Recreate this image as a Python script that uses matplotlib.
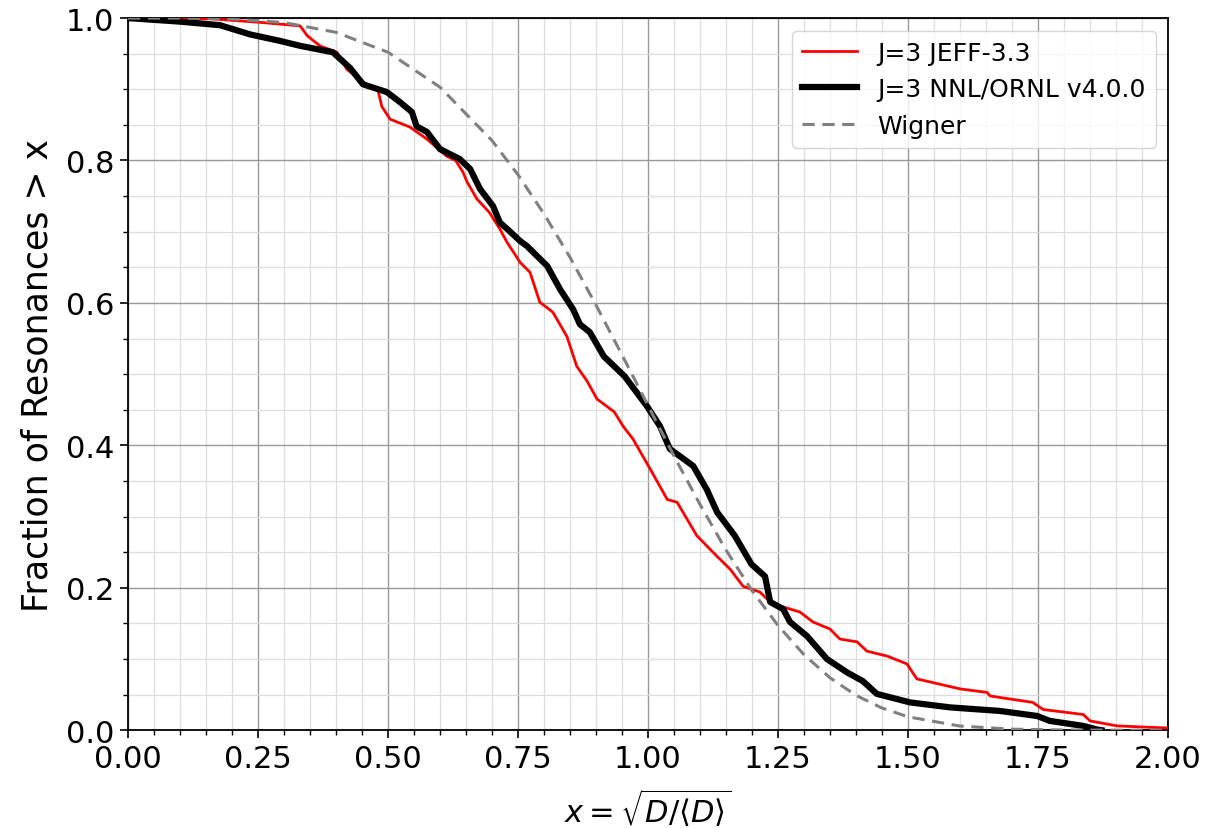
import matplotlib
matplotlib.use("Agg")
import matplotlib.pyplot as plt
from matplotlib.ticker import MultipleLocator

# JEFF-3.3 (red)
jeff_x = [0.0, 0.158, 0.254, 0.331, 0.345, 0.369, 0.402, 0.421, 0.452, 0.481, 0.488, 0.504,
          0.542, 0.575, 0.613, 0.630, 0.644, 0.652, 0.671, 0.695, 0.715, 0.729, 0.754, 0.773,
          0.792, 0.817, 0.844, 0.863, 0.883, 0.902, 0.935, 0.952, 0.971, 1.004, 1.037, 1.056,
          1.094, 1.133, 1.158, 1.183, 1.215, 1.235, 1.260, 1.292, 1.317, 1.350, 1.369, 1.402,
          1.421, 1.460, 1.498, 1.517, 1.600, 1.652, 1.658, 1.740, 1.760, 1.837, 1.850, 1.902, 2.0]
jeff_y = [1.0, 0.999, 0.994, 0.989, 0.975, 0.961, 0.952, 0.928, 0.910, 0.898, 0.876, 0.858,
          0.847, 0.830, 0.806, 0.800, 0.784, 0.770, 0.746, 0.727, 0.704, 0.685, 0.657, 0.643,
          0.601, 0.587, 0.553, 0.511, 0.490, 0.465, 0.447, 0.427, 0.409, 0.367, 0.324, 0.320,
          0.273, 0.244, 0.226, 0.202, 0.194, 0.180, 0.173, 0.166, 0.152, 0.142, 0.128, 0.124,
          0.111, 0.104, 0.093, 0.072, 0.058, 0.053, 0.048, 0.039, 0.029, 0.022, 0.013, 0.006, 0.003]

# NNL/ORNL v4.0.0 (black)
nnl_x = [0.0, 0.10, 0.177, 0.235, 0.292, 0.331, 0.394, 0.427, 0.452, 0.498, 0.523, 0.546,
         0.555, 0.575, 0.600, 0.638, 0.658, 0.677, 0.702, 0.715, 0.729, 0.754, 0.767, 0.792,
         0.806, 0.831, 0.856, 0.869, 0.888, 0.915, 0.955, 0.998, 1.023, 1.042, 1.087, 1.113,
         1.133, 1.167, 1.199, 1.225, 1.235, 1.260, 1.273, 1.306, 1.344, 1.383, 1.413, 1.440,
         1.504, 1.581, 1.677, 1.748, 1.773, 1.837, 1.863, 1.872]
nnl_y = [1.0, 0.995, 0.990, 0.977, 0.968, 0.961, 0.952, 0.930, 0.907, 0.896, 0.882, 0.868,
         0.848, 0.840, 0.816, 0.802, 0.788, 0.760, 0.736, 0.713, 0.704, 0.687, 0.680, 0.662,
         0.652, 0.619, 0.591, 0.570, 0.559, 0.525, 0.497, 0.455, 0.427, 0.395, 0.371, 0.338,
         0.306, 0.273, 0.233, 0.216, 0.180, 0.170, 0.152, 0.132, 0.100, 0.081, 0.069, 0.051,
         0.039, 0.032, 0.027, 0.020, 0.013, 0.006, 0.001, 0.0]

# Wigner reference
wig_x = [0.0, 0.1, 0.2, 0.3, 0.4, 0.5, 0.6, 0.7, 0.75, 0.8, 0.85, 0.9, 0.95, 1.0, 1.05,
         1.1, 1.15, 1.2, 1.25, 1.3, 1.35, 1.4, 1.45, 1.5, 1.6, 1.7, 1.8, 1.9, 2.0]
wig_y = [1.0, 1.0, 0.9987, 0.9937, 0.980, 0.952, 0.903, 0.828, 0.780, 0.725, 0.664, 0.597,
         0.527, 0.456, 0.385, 0.317, 0.253, 0.196, 0.147, 0.106, 0.0736, 0.0489, 0.0311,
         0.0188, 0.0058, 0.0014, 0.0003, 0.00004, 0.0]

fig = plt.figure(figsize=(12.12, 8.29), dpi=100)
ax = fig.add_axes([0.1056, 0.118, 0.8581, 0.859])

ax.plot(jeff_x, jeff_y, color="red", lw=2.0, label="J=3 JEFF-3.3", zorder=3)
ax.plot(nnl_x, nnl_y, color="black", lw=4.5, label="J=3 NNL/ORNL v4.0.0", zorder=4)
ax.plot(wig_x, wig_y, color="gray", lw=2.2, ls=(0, (4, 2.5)), label="Wigner", zorder=5)

ax.set_xlim(0, 2)
ax.set_ylim(0, 1)
ax.xaxis.set_major_locator(MultipleLocator(0.25))
ax.xaxis.set_minor_locator(MultipleLocator(0.05))
ax.yaxis.set_major_locator(MultipleLocator(0.2))
ax.yaxis.set_minor_locator(MultipleLocator(0.05))
ax.xaxis.set_major_formatter(plt.FormatStrFormatter("%.2f"))
ax.yaxis.set_major_formatter(plt.FormatStrFormatter("%.1f"))

ax.grid(which="major", color="#999999", lw=1.0)
ax.grid(which="minor", color="#dddddd", lw=0.9)
ax.set_axisbelow(True)

ax.tick_params(which="major", labelsize=22, length=6, width=1.2, pad=4)
ax.tick_params(which="minor", length=3.5, width=1.0)
for s in ax.spines.values():
    s.set_linewidth(1.3)

ax.set_xlabel(r"$x = \sqrt{D/\langle D\rangle}$", fontsize=22, labelpad=9)
ax.set_ylabel("Fraction of Resonances > x", fontsize=25, labelpad=8)

ax.legend(loc="upper right", fontsize=18, borderaxespad=0.5, handlelength=2.2)

fig.savefig("out.png", dpi=100)
